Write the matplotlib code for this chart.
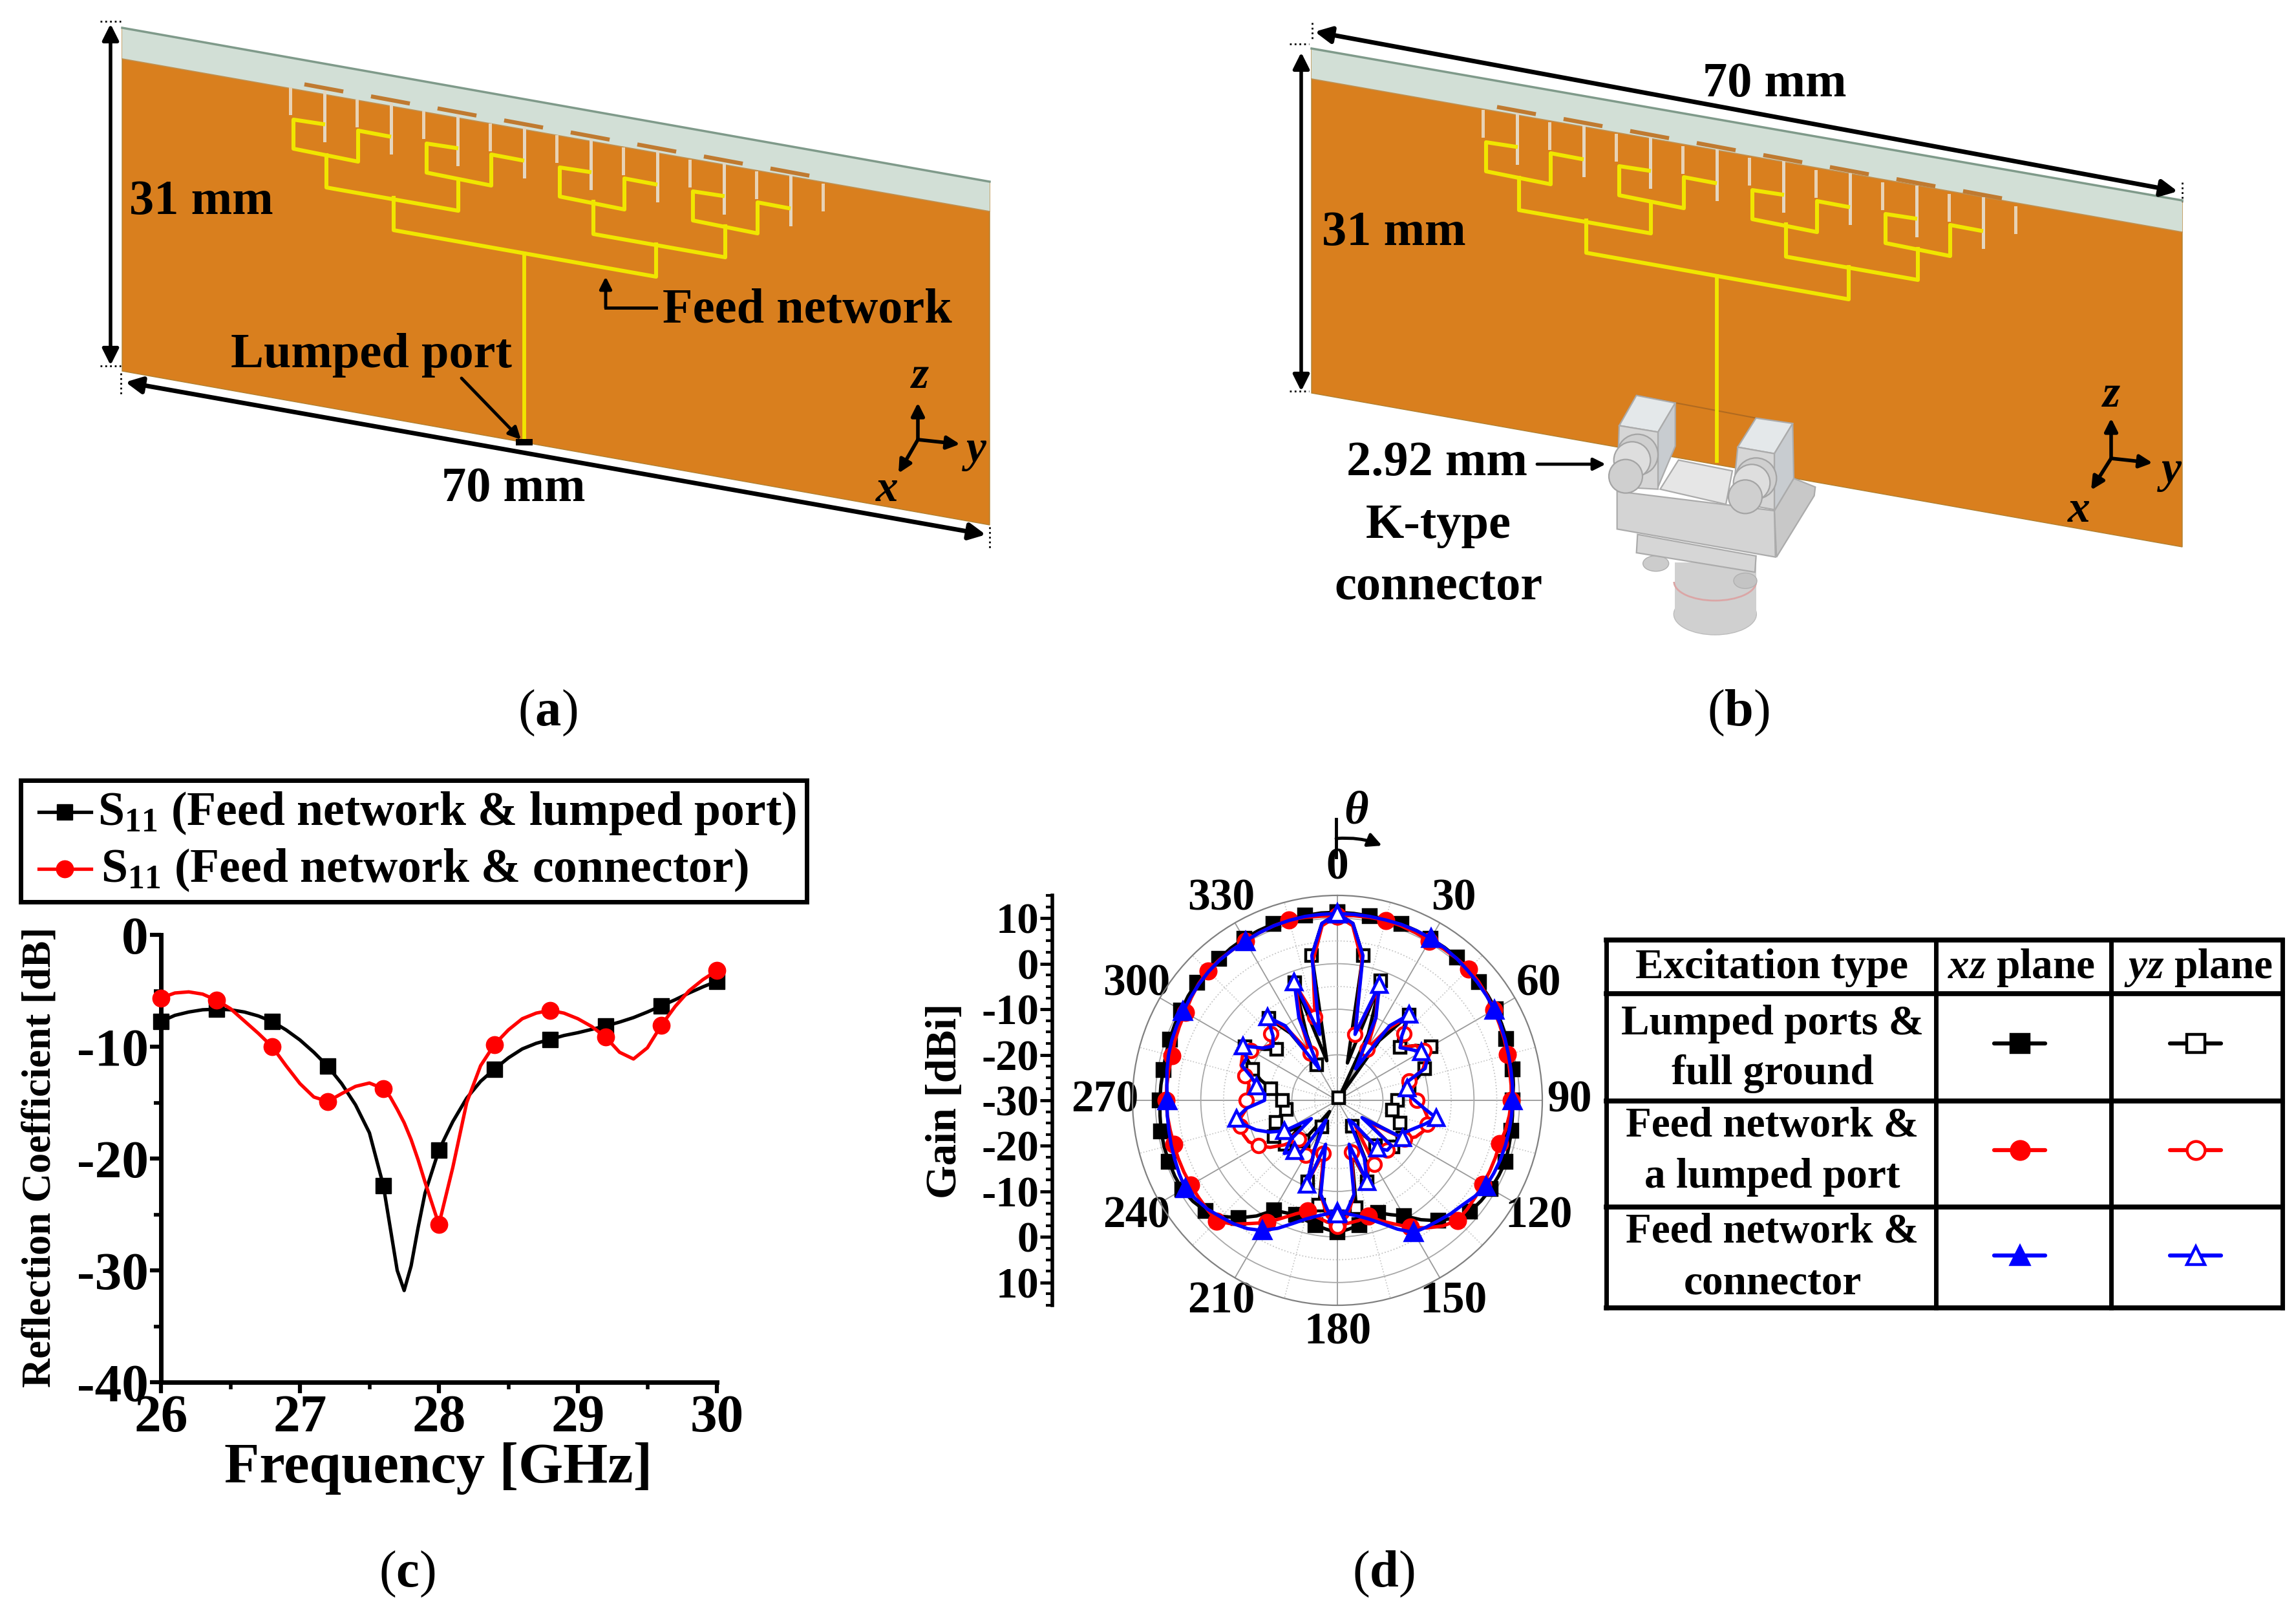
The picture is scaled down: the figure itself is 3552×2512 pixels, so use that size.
import numpy as np
import matplotlib
matplotlib.use("Agg")
import matplotlib.pyplot as plt
from matplotlib.patches import Polygon, Circle, Ellipse, Arc, FancyArrowPatch, Rectangle

W, H = 3552, 2512

plt.rcParams["font.family"] = ["Liberation Serif", "DejaVu Serif"]
plt.rcParams["font.weight"] = "bold"
plt.rcParams["axes.unicode_minus"] = False
plt.rcParams["mathtext.fontset"] = "custom"
plt.rcParams["mathtext.rm"] = "Liberation Serif:bold"
plt.rcParams["mathtext.it"] = "Liberation Serif:italic:bold"
plt.rcParams["mathtext.bf"] = "Liberation Serif:bold"

# panel (c)
freq = [26.0, 26.1, 26.2, 26.3, 26.4, 26.5, 26.6, 26.7, 26.8, 26.9, 27.0, 27.1, 27.2, 27.3, 27.4,
        27.5, 27.6, 27.65, 27.7, 27.75, 27.8, 27.85, 27.9, 28.0, 28.1, 28.2, 28.3, 28.4, 28.5,
        28.6, 28.7, 28.8, 28.9, 29.0, 29.1, 29.2, 29.3, 29.4, 29.5, 29.6, 29.7, 29.8, 29.9, 30.0]
s11_lumped = [-7.75, -7.2, -6.9, -6.7, -6.65, -6.7, -6.9, -7.25, -7.75, -8.5, -9.4, -10.5, -11.75,
              -13.3, -15.2, -17.7, -22.4, -26.2, -30.0, -31.8, -29.6, -26.2, -23.1, -19.25, -16.7,
              -14.6, -13.1, -12.0, -11.0, -10.2, -9.7, -9.35, -9.0, -8.75, -8.45, -8.15, -7.8,
              -7.4, -6.9, -6.35, -5.8, -5.2, -4.65, -4.15]
s11_conn = [-5.65, -5.2, -5.1, -5.3, -5.85, -6.6, -7.7, -8.8, -10.0, -11.7, -13.3, -14.5, -14.9,
            -14.2, -13.55, -13.25, -13.75, -14.5, -15.6, -16.8, -18.3, -20.1, -22.1, -25.9, -20.8,
            -15.0, -11.7, -9.8, -8.5, -7.5, -7.0, -6.75, -7.0, -7.5, -8.2, -9.15, -10.5, -11.1,
            -10.1, -8.1, -6.4, -5.0, -4.0, -3.2]
freq_marks = [26.0, 26.4, 26.8, 27.2, 27.6, 28.0, 28.4, 28.8, 29.2, 29.6, 30.0]

# panel (d), gain in dBi every 5 degrees, one row per 30 degrees
theta_deg = np.arange(0, 360, 5)
xz_lumped = [11.3, 11.2, 11.1, 11.2, 11.2, 11.1,
             11.0, 11.0, 10.9, 10.7, 10.5, 10.3,
             10.1, 9.8, 9.5, 9.3, 9.1, 8.8,
             8.5, 8.6, 8.8, 9.0, 9.3, 9.1,
             8.9, 8.5, 8.0, 6.5, 4.5, 2.0,
             -0.7, -2.3, -3.7, -3.0, -2.2, -1.6,
             -1.0, -1.6, -2.2, -2.8, -3.3, -2.8,
             -2.1, 1.0, 3.7, 6.0, 7.8, 8.7,
             9.3, 9.4, 9.4, 9.4, 9.3, 9.1,
             9.0, 8.9, 8.8, 9.0, 9.2, 9.4,
             9.6, 10.0, 10.3, 10.4, 10.5, 10.8,
             11.0, 11.1, 11.2, 11.2, 11.2, 11.3]
xz_feed = [10.5, 10.7, 10.8, 10.9, 10.8, 10.6,
           10.4, 10.6, 10.7, 10.8, 10.5, 10.1,
           9.7, 9.3, 9.0, 8.7, 8.4, 8.3,
           8.2, 7.9, 7.5, 6.9, 6.9, 6.9,
           6.9, 7.0, 7.2, 7.3, 6.0, 4.2,
           2.2, 0.0, -1.8, -3.7, -3.2, -2.9,
           -2.6, -3.2, -4.0, -4.8, -3.5, -1.5,
           1.0, 3.0, 5.5, 7.5, 7.3, 7.2,
           7.2, 7.2, 7.2, 7.2, 7.3, 7.5,
           7.6, 7.6, 7.6, 7.6, 8.0, 8.3,
           8.6, 9.2, 9.8, 10.2, 10.3, 10.3,
           10.4, 10.6, 10.8, 11.0, 10.8, 10.6]
xz_conn = [11.0, 11.0, 11.0, 11.0, 11.1, 11.1,
           11.1, 10.9, 10.7, 10.4, 10.2, 10.0,
           9.8, 9.5, 9.2, 8.9, 8.7, 8.6,
           8.5, 8.4, 8.3, 8.2, 8.1, 7.9,
           7.7, 6.8, 5.8, 5.2, 4.5, 4.0,
           3.5, 1.2, -1.2, -3.0, -4.2, -5.0,
           -5.5, -5.0, -4.2, -3.0, -1.2, 1.0,
           3.0, 4.4, 5.4, 6.2, 7.2, 7.9,
           8.6, 8.3, 8.0, 7.8, 7.6, 7.5,
           7.4, 7.6, 8.0, 8.4, 8.7, 8.9,
           9.1, 9.4, 9.7, 10.0, 10.2, 10.3,
           10.4, 10.6, 10.8, 10.9, 11.0, 11.0]
yz_lumped = [11.0, 9.0, 2.3, -21.5, -2.0, -14.0,
             -29.3, -14.0, -5.5, -11.0, -12.0, -9.0,
             -6.3, -8.0, -9.6, -12.0, -14.0, -15.5,
             -16.8, -17.5, -17.8, -17.0, -15.3, -14.0,
             -13.5, -23.0, -14.0, -15.0, -17.0, -22.0,
             -23.4, -14.0, -11.0, -18.0, -6.0, -5.0,
             -4.5, -5.0, -6.7, -19.0, -11.0, -18.0,
             -23.2, -27.0, -18.4, -17.0, -15.0, -20.0,
             -14.0, -15.0, -15.7, -17.0, -18.6, -18.5,
             -18.0, -17.0, -15.1, -12.5, -10.2, -8.0,
             -6.5, -10.5, -12.5, -9.0, -6.5, -12.0,
             -21.0, -14.0, -2.5, -21.0, 2.3, 9.0]
yz_feed = [10.5, 8.5, 1.0, -15.0, -4.0, -10.0,
           -17.0, -11.0, -6.0, -9.3, -12.0, -9.0,
           -8.0, -8.5, -10.0, -13.7, -14.0, -13.5,
           -12.6, -11.0, -10.0, -9.6, -10.0, -11.0,
           -13.0, -22.0, -15.0, -14.5, -17.0, -23.0,
           -13.8, -14.0, -11.5, -18.2, -9.0, -4.5,
           -2.3, -4.5, -9.0, -18.0, -11.0, -18.0,
           -16.0, -15.0, -15.5, -18.0, -14.8, -12.0,
           -10.0, -8.5, -8.0, -8.0, -8.5, -10.0,
           -10.0, -10.3, -10.3, -9.0, -7.5, -7.0,
           -8.0, -10.0, -11.0, -9.3, -5.7, -11.0,
           -18.0, -11.0, -3.0, -11.0, 1.0, 8.5]
yz_conn = [11.0, 9.0, 2.3, -15.0, -3.0, -10.0,
           -22.0, -10.0, -5.4, -10.0, -12.0, -10.5,
           -8.7, -8.2, -9.5, -14.0, -14.5, -14.5,
           -13.0, -11.0, -8.0, -10.0, -12.0, -13.5,
           -13.5, -23.4, -14.5, -14.5, -16.3, -24.0,
           -25.0, -16.0, -11.0, -20.0, -9.0, -5.7,
           -5.0, -5.7, -9.0, -20.0, -10.3, -18.0,
           -25.0, -15.0, -15.5, -13.5, -16.6, -23.0,
           -16.6, -13.5, -11.0, -9.0, -7.5, -10.0,
           -14.0, -14.0, -12.0, -10.5, -7.7, -8.0,
           -6.1, -10.0, -11.5, -10.0, -6.1, -10.0,
           -22.0, -10.0, -2.3, -15.0, 2.3, 9.0]

series_polar = [
    (xz_lumped, "k", "s", 2, "k", 14),
    (yz_lumped, "k", "s", 2, "white", 13),
    (xz_feed, "red", "o", 3, "red", 17),
    (yz_feed, "red", "o", 3, "white", 15),
    (xz_conn, "blue", "^", 6, "blue", 19),
    (yz_conn, "blue", "^", 4, "white", 17),
]

theta_labels = ["0", "30", "60", "90", "120", "150", "180", "210", "240", "270", "300", "330"]
gain_labels = ["10", "0", "-10", "-20", "-30", "-20", "-10", "0", "10"]

table_rows = [("Lumped ports &", "full ground"), ("Feed network &", "a lumped port"), ("Feed network &", "connector")]
table_colors = ["k", "red", "blue"]
table_markers = ["s", "o", "^"]

ORANGE = "#d97f1e"
STRIP = "#d2dfd6"
YELLOW = "#f0e600"


def px_axes(x0, y0, x1, y1, **kw):
    return fig.add_axes([x0 / W, 1 - y1 / H, (x1 - x0) / W, (y1 - y0) / H], **kw)


def arrow(p0, p1, style="-|>", lw=4.0, scale=38):
    ov.add_patch(FancyArrowPatch(p0, p1, arrowstyle=style, mutation_scale=scale, lw=lw, color="k",
                                 shrinkA=0, shrinkB=0, zorder=6))


def draw_board(tl, tr, bl, br, sl, sr):
    ov.add_patch(Polygon([tl, tr, br, bl], fc=ORANGE, ec="#b08030", lw=1))
    ov.add_patch(Polygon([tl, tr, sr, sl], fc=STRIP, ec="none"))
    ov.plot([tl[0], tr[0]], [tl[1], tr[1]], color="#7f9a8a", lw=2.5)
    ov.plot([sl[0], sr[0]], [sl[1], sr[1]], color="#c09050", lw=1.2)


def draw_feed(ox, oy, foot):
    def line(xs, ys, c=YELLOW, lw=4.4, z=3):
        ov.plot([x + ox for x in xs], [y + oy for y in ys], color=c, lw=lw, solid_joinstyle="round", zorder=z)

    # patches and thin stubs
    for i in range(9):
        dx, dy = 103 * i, 18.6 * i
        line([449 + dx, 449 + dx], [137 + dy, 175 + dy], c="#e8d2b4", lw=3.6, z=2)
        if i < 8:
            line([502 + dx, 502 + dx], [142 + dy, 217 + dy], c="#e4d6c0", lw=3.6, z=2)
            line([474 + dx, 528 + dx], [131 + dy, 141 + dy], c="#c07a30", lw=4.5, z=2)
    for i in range(4):
        dx, dy = 206 * i, 37 * i
        line([500 + dx, 454 + dx, 454 + dx, 554 + dx, 554 + dx, 602 + dx],
             [192 + dy, 185 + dy, 230 + dy, 250 + dy, 202 + dy, 211 + dy])
    for i in range(2):
        dx, dy = 413 * i, 72 * i
        line([505 + dx, 505 + dx, 709 + dx, 709 + dx], [240 + dy, 290 + dy, 326 + dy, 278 + dy])
    line([609, 609, 1015, 1015], [306, 356, 428, 378])
    line([811, 811], [392, foot - oy], lw=4.2, z=5)


def triad(o, z, y, x, lz, ly, lx):
    arrow(o, z, lw=4, scale=30)
    arrow(o, y, lw=4, scale=30)
    arrow(o, x, lw=4, scale=30)
    ov.text(*lz, "z", style="italic", fontsize=50, ha="center", va="center")
    ov.text(*ly, "y", style="italic", fontsize=50, ha="center", va="center")
    ov.text(*lx, "x", style="italic", fontsize=50, ha="center", va="center")


def draw_connector():
    # outline of the grey connector drawing in panel (b)
    def p(x, y):
        return (2440 + x / 3, 580 + y / 3)

    def poly(pts, fc):
        ov.add_patch(Polygon([p(*q) for q in pts], fc=fc, ec="#ababab", lw=1.6, zorder=4))

    def disc(c, r, fc):
        ov.add_patch(Circle(p(*c), r / 3, fc=fc, ec="#a4a4a4", lw=1.6, zorder=4))

    ov.plot(*zip(p(275, 95), p(830, 200)), color="#b06a20", lw=1.5, zorder=3)
    ov.add_patch(Ellipse(p(640, 1110), 128, 64, fc="#d0d0d0", ec="#bcbcbc", zorder=4))
    ov.add_patch(Rectangle(p(453, 870), 126, 80, fc="#d0d0d0", ec="none", zorder=4))
    ov.add_patch(Arc(p(640, 960), 127, 58, theta1=0, theta2=180, color="#dba6a6", lw=2, zorder=4))
    ov.add_patch(Ellipse(p(365, 875), 40, 24, fc="#cccccc", ec="#b0b0b0", zorder=4))
    poly([(915, 630), (1005, 480), (1105, 520), (1100, 560), (925, 845)], "#c8c8c8")
    poly([(280, 740), (830, 840), (825, 915), (275, 825)], "#d6d6d6")
    ov.add_patch(Ellipse(p(780, 955), 36, 24, fc="#c4c4c4", ec="#b0b0b0", zorder=4))
    poly([(185, 540), (915, 630), (920, 845), (185, 715)], "#d4d4d4")
    poly([(470, 395), (720, 445), (690, 600), (385, 530)], "#e6e6e6")
    poly([(275, 95), (455, 130), (375, 265), (195, 235)], "#e4e8ea")
    poly([(455, 130), (455, 330), (375, 520), (375, 265)], "#c8ccd0")
    poly([(195, 235), (375, 265), (375, 530), (185, 520)], "#d6d6d6")
    poly([(830, 200), (1000, 225), (915, 365), (745, 335)], "#e4e8ea")
    poly([(1000, 225), (1005, 480), (915, 630), (915, 365)], "#c8ccd0")
    poly([(745, 335), (915, 365), (915, 625), (720, 590)], "#d6d6d6")
    for c, r, fc in [((280, 370), 95, "#cfcfcf"), ((255, 395), 85, "#dedede"), ((225, 470), 78, "#cfcfcf"),
                     ((830, 480), 95, "#cfcfcf"), ((810, 500), 85, "#dedede"), ((780, 565), 78, "#cfcfcf")]:
        disc(c, r, fc)


fig = plt.figure(figsize=(W / 100, H / 100), dpi=100, facecolor="white")

# full figure layer in pixel units, for the drawings and the table
ov = px_axes(0, 0, W, H)
ov.set_xlim(0, W)
ov.set_ylim(H, 0)
ov.axis("off")

# (a)
draw_board((189, 43), (1531, 281), (189, 574), (1531, 812), (189, 91), (1531, 327))
draw_feed(0, 0, 683)
ov.add_patch(Rectangle((798, 679), 26, 10, fc="k", zorder=5))
arrow((171, 37), (171, 565), style="<|-|>")
arrow((194, 591), (1525, 827), style="<|-|>", lw=5)
for x0, y0, x1, y1 in [(155, 33, 187, 33), (155, 566, 187, 566), (187, 577, 187, 612), (1531, 815, 1531, 848)]:
    ov.plot([x0, x1], [y0, y1], "k", ls=":", lw=2)
ov.text(311, 313, "31 mm", fontsize=55, ha="center", va="center")
ov.text(1025, 480, "Feed network", fontsize=55, ha="left", va="center")
ov.text(574, 550, "Lumped port", fontsize=55, ha="center", va="center")
ov.text(794, 757, "70 mm", fontsize=55, ha="center", va="center")
ov.plot([1015, 937], [476, 476], "k", lw=3.5, zorder=6)
arrow((937, 476), (937, 428), lw=3.5, scale=28)
arrow((714, 585), (806, 680), lw=3.5, scale=28)
triad((1420, 680), (1420, 623), (1485, 687), (1390, 732), (1423, 583), (1510, 697), (1372, 758))

# (b)
draw_board((2029, 75), (3376, 310), (2029, 608), (3376, 846), (2029, 122), (3376, 359))
draw_connector()
draw_feed(1845, 35, 713)
arrow((2013, 81), (2013, 605), style="<|-|>")
arrow((2034, 49), (3369, 296), style="<|-|>", lw=5)
for x0, y0, x1, y1 in [(1995, 68, 2025, 68), (1995, 605, 2025, 605), (2030, 35, 2030, 60), (3376, 282, 3376, 312)]:
    ov.plot([x0, x1], [y0, y1], "k", ls=":", lw=2)
ov.text(2745, 130, "70 mm", fontsize=55, ha="center", va="center")
ov.text(2156, 360, "31 mm", fontsize=55, ha="center", va="center")
ov.text(2223, 716, "2.92 mm", fontsize=55, ha="center", va="center")
ov.text(2225, 813, "K-type", fontsize=55, ha="center", va="center")
ov.text(2225, 908, "connector", fontsize=55, ha="center", va="center")
arrow((2378, 718), (2484, 718), lw=3.5, scale=28)
triad((3266, 709), (3266, 647), (3330, 716), (3235, 758), (3266, 612), (3359, 729), (3216, 790))

# panel letters
for cx, cy, s in [(847, 1103, "a"), (2689, 1103, "b"), (630, 2435, "c"), (2140, 2435, "d")]:
    ov.text(cx, cy, "(" + r"$\mathbf{" + s + "}$" + ")", fontsize=58, ha="center", va="center", fontweight="normal")

# (c)
ax_c = px_axes(249, 1446, 1109, 2138)
ax_c.plot(freq, s11_lumped, color="k", lw=3.8, zorder=3)
ax_c.plot(freq, s11_conn, color="red", lw=3.8, zorder=4)
ax_c.plot(freq_marks, [s11_lumped[freq.index(f)] for f in freq_marks], "s", color="k", ms=17, zorder=3, clip_on=False)
ax_c.plot(freq_marks, [s11_conn[freq.index(f)] for f in freq_marks], "o", color="red", ms=19, zorder=4, clip_on=False)
ax_c.set_xlim(26, 30)
ax_c.set_ylim(-40, 0)
ax_c.set_xticks([26, 27, 28, 29, 30])
ax_c.set_xticks([26.5, 27.5, 28.5, 29.5], minor=True)
ax_c.set_yticks([0, -10, -20, -30, -40])
ax_c.set_yticks([-5, -15, -25, -35], minor=True)
ax_c.tick_params(which="major", labelsize=60, width=4.5, length=12, pad=2)
ax_c.tick_params(which="minor", width=4, length=8)
for side in ["top", "right"]:
    ax_c.spines[side].set_visible(False)
for side in ["left", "bottom"]:
    ax_c.spines[side].set_linewidth(5)
ov.text(678, 2272, "Frequency [GHz]", fontsize=64, ha="center", va="center")
ov.text(62, 1790, "Reflection Coefficient [dB]", fontsize=45, rotation=90, ha="center", va="center")

# legend box of (c), drawn by hand to keep its place above the axes
ov.add_patch(Rectangle((32, 1207), 1216, 188, fc="white", ec="k", lw=5))
ov.plot([60, 141], [1256, 1256], "k", lw=3.8)
ov.plot([100], [1256], "s", color="k", ms=17)
ov.plot([60, 141], [1344, 1344], color="red", lw=3.8)
ov.plot([100], [1344], "o", color="red", ms=19)
ov.text(151, 1258, r"S$_{\mathbf{11}}$ (Feed network & lumped port)", fontsize=53, ha="left", va="center")
ov.text(156, 1346, r"S$_{\mathbf{11}}$ (Feed network & connector)", fontsize=53, ha="left", va="center")

# (d)
ax_d = px_axes(1752, 1385, 2386, 2019, projection="polar")
ax_d.set_theta_zero_location("N")
ax_d.set_theta_direction(-1)
ax_d.set_rlim(-30, 15)
ax_d.set_rticks([-25, -20, -15, -10, -5, 0, 5, 10])
ax_d.set_yticklabels([])
ax_d.set_thetagrids(np.arange(0, 360, 30), theta_labels)
ax_d.tick_params(axis="x", labelsize=50, pad=20)
ax_d.xaxis.grid(True, color="#9a9a9a", lw=1.3)
ax_d.yaxis.grid(True, color="#a8a8a8", lw=1.3)
for r, gl in zip(ax_d.get_yticks(), ax_d.yaxis.get_gridlines()):
    if r in (-25, -15, -5, 5):
        gl.set_linestyle(":")
        gl.set_color("#c4c4c4")
for a in np.arange(15, 360, 30):
    ax_d.plot([np.radians(a)] * 2, [-30, 15], ls=":", color="#c4c4c4", lw=1.2, zorder=1)
ax_d.spines["polar"].set_color("#808080")
ax_d.spines["polar"].set_linewidth(1.6)
theta = np.radians(theta_deg)
for vals, color, mk, step, mfc, ms in series_polar:
    t = np.append(theta, theta[0])
    r = np.array(list(vals) + [vals[0]], dtype=float)
    ax_d.plot(t, r, color=color, lw=3.8, marker=mk, ms=ms, mfc=mfc, mec=color, mew=3.2,
              markevery=step, clip_on=False, zorder=3, solid_joinstyle="round")

# gain scale left of the polar plot
ax_g = px_axes(1628, 1385, 1640, 2019)
ax_g.set_ylim(-45, 45)
ax_g.set_yticks(np.arange(-40, 41, 10))
ax_g.set_yticklabels(gain_labels)
ax_g.set_yticks(np.arange(-45, 45.1, 2.5), minor=True)
ax_g.set_xticks([])
ax_g.tick_params(which="major", axis="y", labelsize=48, width=3.5, length=14, pad=1)
ax_g.tick_params(which="minor", axis="y", width=3, length=7)
for side in ["top", "right", "bottom"]:
    ax_g.spines[side].set_visible(False)
ax_g.spines["left"].set_linewidth(4)
ax_g.patch.set_alpha(0)
ov.text(1462, 1703, "Gain [dBi]", fontsize=48, rotation=90, ha="center", va="center")
ov.plot([2067, 2067], [1267, 1326], "k", lw=3.5)
ov.add_patch(FancyArrowPatch((2067, 1297), (2138, 1308), arrowstyle="-|>", mutation_scale=32, lw=3.5, color="k",
                             connectionstyle="arc3,rad=-0.12", shrinkA=0, shrinkB=0))
ov.text(2098, 1256, "θ", style="italic", fontsize=52, ha="center", va="center")

# table of (d)
col_x = [2485, 2995, 3266, 3531]
row_y = [1454, 1537, 1703, 1867, 2023]
for x in col_x:
    ov.plot([x, x], [row_y[0], row_y[-1]], "k", lw=5, solid_capstyle="projecting")
for y in row_y:
    ov.plot([col_x[0], col_x[-1]], [y, y], "k", lw=5.5, solid_capstyle="projecting")
ov.text(2741, 1497, "Excitation type", fontsize=47, ha="center", va="center")
ov.text(3127, 1497, r"$\mathit{xz}$ plane", fontsize=47, ha="center", va="center")
ov.text(3401, 1497, r"$\mathit{yz}$ plane", fontsize=47, ha="center", va="center")
line_y = [1614, 1779, 1942]
text_y = [(1584, 1661), (1742, 1821), (1906, 1985)]
for i, (top, bottom) in enumerate(table_rows):
    ov.text(2742, text_y[i][0], top, fontsize=47, ha="center", va="center")
    ov.text(2742, text_y[i][1], bottom, fontsize=47, ha="center", va="center")
    c = table_colors[i]
    for x0, x1, mfc in [(3085, 3164, c), (3357, 3436, "white")]:
        ov.plot([x0, x1], [line_y[i]] * 2, color=c, lw=4.5, solid_capstyle="round")
        ov.plot([(x0 + x1) / 2], [line_y[i]], table_markers[i], ms=20, mfc=mfc, mec=c, mew=3.2, color=c)

fig.savefig("out.png", dpi=100)
